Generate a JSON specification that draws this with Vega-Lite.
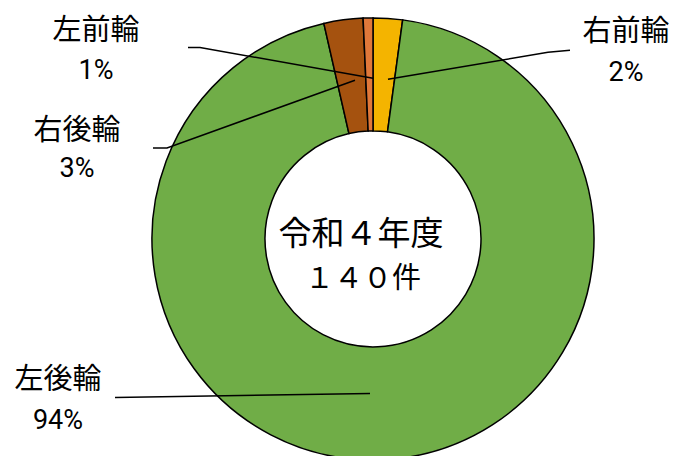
{
  "$schema": "https://vega.github.io/schema/vega-lite/v6.json",
  "autosize": {"type": "fit", "contains": "padding"},
  "width": 675,
  "height": 456,
  "padding": 0,
  "background": "white",
  "config": {"view": {"stroke": null}},
  "datasets": {
    "slices": [
      {"part": "右前輪", "count": 3, "ord": 1},
      {"part": "左後輪", "count": 132, "ord": 2},
      {"part": "右後輪", "count": 4, "ord": 3},
      {"part": "左前輪", "count": 1, "ord": 4}
    ],
    "labels": [
      {"text": "左前輪", "kind": "name", "lx": -277, "ly": -215},
      {"text": "1%", "kind": "pct", "lx": -277, "ly": -174},
      {"text": "右後輪", "kind": "name", "lx": -296, "ly": -112},
      {"text": "3%", "kind": "pct", "lx": -296, "ly": -72},
      {"text": "右前輪", "kind": "name", "lx": 253, "ly": -214},
      {"text": "2%", "kind": "pct", "lx": 253, "ly": -172},
      {"text": "左後輪", "kind": "name", "lx": -315, "ly": 146},
      {"text": "94%", "kind": "pct", "lx": -315, "ly": 188}
    ],
    "center": [
      {"text": "令和４年度", "kind": "l1", "lx": -12, "ly": -4},
      {"text": "１４０件", "kind": "l2", "lx": -10, "ly": 41}
    ],
    "leaders": [
      {"part": "左前輪", "step": 1, "lx": -185, "ly": -198},
      {"part": "左前輪", "step": 2, "lx": -173, "ly": -198},
      {"part": "左前輪", "step": 3, "lx": 0, "ly": -166},
      {"part": "右後輪", "step": 1, "lx": -220, "ly": -94},
      {"part": "右後輪", "step": 2, "lx": -206, "ly": -94},
      {"part": "右後輪", "step": 3, "lx": -18, "ly": -164},
      {"part": "右前輪", "step": 1, "lx": 15, "ly": -165},
      {"part": "右前輪", "step": 2, "lx": 175, "ly": -193},
      {"part": "右前輪", "step": 3, "lx": 197, "ly": -195},
      {"part": "左後輪", "step": 1, "lx": -258, "ly": 164},
      {"part": "左後輪", "step": 2, "lx": -3, "ly": 160}
    ]
  },
  "resolve": {"scale": {"x": "shared", "y": "shared"}},
  "layer": [
    {
      "data": {"name": "slices"},
      "mark": {"type": "arc", "outerRadius": 221, "innerRadius": 108, "stroke": "black", "strokeWidth": 1.5},
      "encoding": {
        "x": {"datum": 0, "type": "quantitative", "scale": {"domain": [-373, 302], "nice": false, "zero": false}, "axis": null},
        "y": {"datum": 0, "type": "quantitative", "scale": {"domain": [-247, 209], "reverse": true, "nice": false, "zero": false}, "axis": null},
        "theta": {"field": "count", "type": "quantitative", "stack": true},
        "order": {"field": "ord", "type": "quantitative"},
        "color": {
          "field": "part", "type": "nominal", "legend": null,
          "scale": {"domain": ["右前輪", "左後輪", "右後輪", "左前輪"], "range": ["#F4B400", "#70AD47", "#A5520F", "#E0783A"]}
        }
      }
    },
    {
      "data": {"name": "leaders"},
      "mark": {"type": "line", "color": "black", "strokeWidth": 1.5},
      "encoding": {
        "x": {"field": "lx", "type": "quantitative"},
        "y": {"field": "ly", "type": "quantitative"},
        "detail": {"field": "part"},
        "order": {"field": "step"}
      }
    },
    {
      "data": {"name": "labels"},
      "transform": [{"filter": "datum.kind === 'name'"}],
      "mark": {"type": "text", "font": "Noto Sans CJK JP", "fontSize": 29, "color": "black", "align": "center", "baseline": "middle"},
      "encoding": {
        "x": {"field": "lx", "type": "quantitative"},
        "y": {"field": "ly", "type": "quantitative"},
        "text": {"field": "text"}
      }
    },
    {
      "data": {"name": "labels"},
      "transform": [{"filter": "datum.kind === 'pct'"}],
      "mark": {"type": "text", "font": "Roboto", "fontSize": 27, "color": "black", "align": "center", "baseline": "middle"},
      "encoding": {
        "x": {"field": "lx", "type": "quantitative"},
        "y": {"field": "ly", "type": "quantitative"},
        "text": {"field": "text"}
      }
    },
    {
      "data": {"name": "center"},
      "transform": [{"filter": "datum.kind === 'l1'"}],
      "mark": {"type": "text", "font": "Noto Sans CJK JP", "fontSize": 33, "color": "black", "align": "center", "baseline": "middle"},
      "encoding": {
        "x": {"field": "lx", "type": "quantitative"},
        "y": {"field": "ly", "type": "quantitative"},
        "text": {"field": "text"}
      }
    },
    {
      "data": {"name": "center"},
      "transform": [{"filter": "datum.kind === 'l2'"}],
      "mark": {"type": "text", "font": "Noto Sans CJK JP", "fontSize": 29, "color": "black", "align": "center", "baseline": "middle"},
      "encoding": {
        "x": {"field": "lx", "type": "quantitative"},
        "y": {"field": "ly", "type": "quantitative"},
        "text": {"field": "text"}
      }
    }
  ]
}
